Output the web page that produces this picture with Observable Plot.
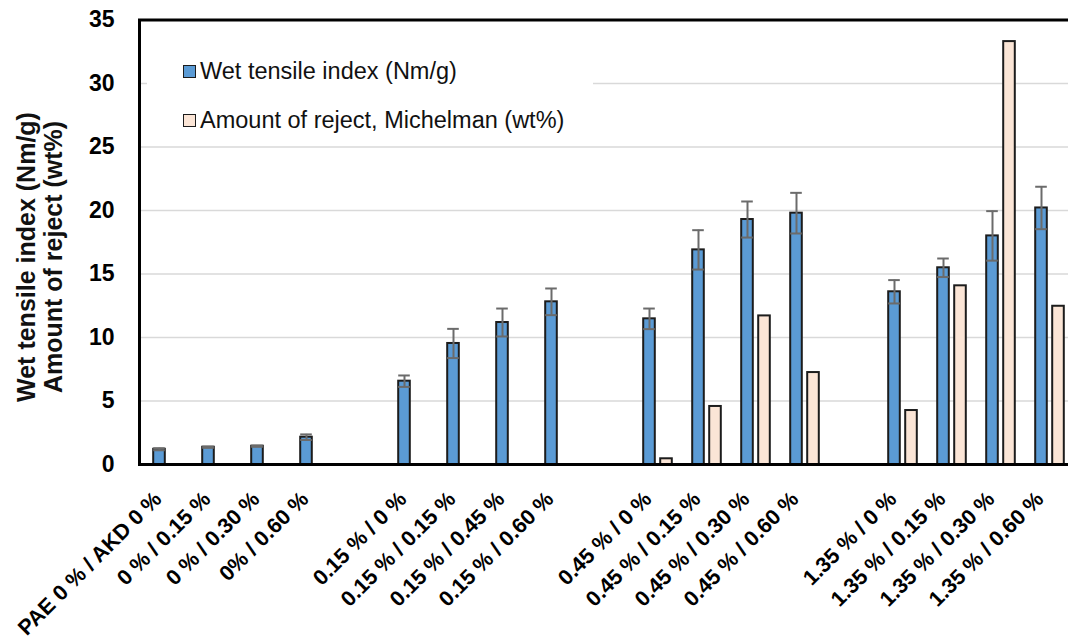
<!DOCTYPE html>
<html>
<head>
<meta charset="utf-8">
<script src="https://cdn.jsdelivr.net/npm/d3@7"></script>
<script src="https://cdn.jsdelivr.net/npm/@observablehq/plot@0.6"></script>
<style>
  html, body { margin: 0; padding: 0; background: #fff; overflow: hidden; width: 1068px; height: 642px; }
  #wrap { position: relative; width: 1068px; height: 642px; overflow: hidden; font-family: "Liberation Sans", Arial, sans-serif; }
  #chart svg { display: block; max-width: none; }
  .legend { position: absolute; left: 147px; top: 32px; width: 446px; height: 108px; background: #fff; }
  .legend .item { position: absolute; left: 36px; display: flex; align-items: center; font-size: 23.5px; line-height: 26px; color: #111; white-space: nowrap; }
  .legend .sw { width: 11px; height: 11px; border: 1.5px solid #1c1c1c; margin-right: 4px; }
  .ytitle { position: absolute; top: 257px; transform: translate(-50%, -50%) rotate(-90deg); font-size: 25px; line-height: 28px; font-weight: bold; color: #111; white-space: nowrap; }
</style>
</head>
<body>
<div id="wrap">
  <div id="chart"></div>
  <div class="legend">
    <div class="item" style="top:26px"><span class="sw" style="background:#5B9BD5"></span>Wet tensile index (Nm/g)</div>
    <div class="item" style="top:75px"><span class="sw" style="background:#FBE5D6"></span>Amount of reject, Michelman (wt%)</div>
  </div>
  <div class="ytitle" style="left:26px">Wet tensile index (Nm/g)</div>
  <div class="ytitle" style="left:53px">Amount of reject (wt%)</div>
</div>
<script>
const categories = [
  "PAE 0 % / AKD 0 %", "0 % / 0.15 %", "0 % / 0.30 %", "0% / 0.60 %",
  "0.15 % / 0 %", "0.15 % / 0.15 %", "0.15 % / 0.45 %", "0.15 % / 0.60 %",
  "0.45 % / 0 %", "0.45 % / 0.15 %", "0.45 % / 0.30 %", "0.45 % / 0.60 %",
  "1.35 % / 0 %", "1.35 % / 0.15 %", "1.35 % / 0.30 %", "1.35 % / 0.60 %"
];
// x slots, with an empty slot between groups
const slotOrder = [
  "PAE 0 % / AKD 0 %", "0 % / 0.15 %", "0 % / 0.30 %", "0% / 0.60 %", "gap-1",
  "0.15 % / 0 %", "0.15 % / 0.15 %", "0.15 % / 0.45 %", "0.15 % / 0.60 %", "gap-2",
  "0.45 % / 0 %", "0.45 % / 0.15 %", "0.45 % / 0.30 %", "0.45 % / 0.60 %", "gap-3",
  "1.35 % / 0 %", "1.35 % / 0.15 %", "1.35 % / 0.30 %", "1.35 % / 0.60 %"
];
const wetTensile = [1.2, 1.36, 1.44, 2.15, 6.56, 9.53, 11.18, 12.81, 11.47, 16.9, 19.29, 19.79, 13.6, 15.49, 18.0, 20.2];
const wetError   = [0.08, 0.05, 0.05, 0.22, 0.45, 1.15, 1.1, 1.05, 0.81, 1.55, 1.42, 1.6, 0.92, 0.73, 1.95, 1.67];
const reject     = [null, null, null, null, null, null, null, null, 0.45, 4.57, 11.7, 7.24, 4.25, 14.07, 33.3, 12.46];
const yTicks = [0, 5, 10, 15, 20, 25, 30, 35];
const yGrid = [5, 10, 15, 20, 25, 30];

const rows = categories.map((c, i) => ({cat: c, wet: wetTensile[i], err: wetError[i], reject: reject[i]}));
const rejectRows = rows.filter(d => d.reject != null);

const blueInset = {insetLeft: 10.2, insetRight: 27.2};
const pinkInset = {insetLeft: 27.2, insetRight: 10.2};

const chart = Plot.plot({
  width: 1080,
  height: 642,
  marginLeft: 139,
  marginRight: 3,
  marginTop: 19.5,
  marginBottom: 178,
  style: {fontFamily: "'Liberation Sans', Arial, sans-serif", color: "#000", background: "#fff", maxWidth: "none"},
  x: {domain: slotOrder, padding: 0, axis: null},
  y: {domain: [0, 35], axis: null},
  marks: [
    Plot.gridY(yGrid, {stroke: "#d9d9d9", strokeWidth: 1.6, strokeOpacity: 1}),
    Plot.barY(rows, {x: "cat", y: "wet", fill: "#5B9BD5", stroke: "#1c1c1c", strokeWidth: 2, ...blueInset}),
    Plot.barY(rejectRows, {x: "cat", y: "reject", fill: "#FBE5D6", stroke: "#1c1c1c", strokeWidth: 2, ...pinkInset}),
    Plot.ruleX(rows, {x: "cat", y1: d => d.wet - d.err, y2: d => d.wet + d.err, dx: -8.5, stroke: "#6b6b6b", strokeWidth: 2}),
    Plot.tickY(rows, {x: "cat", y: d => d.wet + d.err, stroke: "#6b6b6b", strokeWidth: 2, ...blueInset}),
    Plot.tickY(rows, {x: "cat", y: d => d.wet - d.err, stroke: "#6b6b6b", strokeWidth: 2, ...blueInset}),
    Plot.frame({stroke: "#000", strokeWidth: 3}),
    Plot.axisY({ticks: yTicks, tickSize: 0, tickPadding: 25, fontSize: 23, fontWeight: "bold", label: null, tickFormat: d => String(d)}),
    Plot.axisX({ticks: categories, tickRotate: -45, tickSize: 0, tickPadding: 31, dx: -10, fontSize: 21.5, fontWeight: "bold", label: null})
  ]
});
document.getElementById("chart").appendChild(chart);
</script>
</body>
</html>
